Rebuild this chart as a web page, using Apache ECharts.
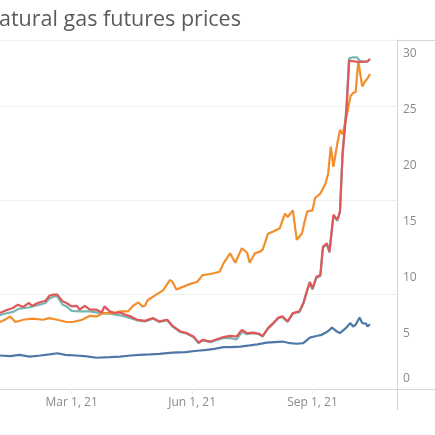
<!DOCTYPE html>
<html>
<head>
<meta charset="utf-8">
<script src="https://cdn.jsdelivr.net/npm/echarts@6/dist/echarts.min.js"></script>
<style>
  html, body { margin: 0; padding: 0; background: #fff; }
  #chart { width: 435px; height: 435px; }
</style>
</head>
<body>
<div id="chart"></div>
<script>
// tick labels
var xTickDates = ['2021-03-01', '2021-06-01', '2021-09-01'];
var monthNames = ['Jan', 'Feb', 'Mar', 'Apr', 'May', 'Jun', 'Jul', 'Aug', 'Sep', 'Oct', 'Nov', 'Dec'];

// blue
var henryHub = [
  ['2021-01-05', 3.0], ['2021-01-13', 2.95], ['2021-01-20', 3.05], ['2021-01-28', 2.9],
  ['2021-02-05', 3.0], ['2021-02-12', 3.1], ['2021-02-18', 3.2], ['2021-02-24', 3.05],
  ['2021-03-04', 3.0], ['2021-03-11', 2.95], ['2021-03-20', 2.8], ['2021-03-30', 2.85],
  ['2021-04-07', 2.9], ['2021-04-15', 3.0], ['2021-04-22', 3.05], ['2021-04-30', 3.1],
  ['2021-05-07', 3.15], ['2021-05-17', 3.25], ['2021-05-27', 3.3], ['2021-06-03', 3.4],
  ['2021-06-12', 3.5], ['2021-06-18', 3.6], ['2021-06-25', 3.75], ['2021-07-01', 3.75],
  ['2021-07-08', 3.8], ['2021-07-15', 3.9], ['2021-07-21', 4.0], ['2021-07-28', 4.15],
  ['2021-08-03', 4.2], ['2021-08-09', 4.25], ['2021-08-15', 4.1], ['2021-08-20', 4.05],
  ['2021-08-25', 4.1], ['2021-08-30', 4.6], ['2021-09-04', 4.75], ['2021-09-08', 4.85],
  ['2021-09-12', 5.1], ['2021-09-16', 5.5], ['2021-09-19', 5.2], ['2021-09-22', 5.0],
  ['2021-09-26', 5.4], ['2021-09-30', 5.9], ['2021-10-02', 5.6], ['2021-10-04', 5.75],
  ['2021-10-07', 6.4], ['2021-10-09', 5.9], ['2021-10-12', 5.85], ['2021-10-13', 5.6],
  ['2021-10-15', 5.8]
];

// orange
var asiaJkm = [
  ['2021-01-05', 6.0], ['2021-01-09', 6.2], ['2021-01-13', 6.5], ['2021-01-17', 6.0],
  ['2021-01-23', 6.2], ['2021-01-30', 6.3], ['2021-02-07', 6.2], ['2021-02-12', 6.35],
  ['2021-02-18', 6.2], ['2021-02-25', 6.0], ['2021-03-02', 6.0], ['2021-03-09', 6.2],
  ['2021-03-15', 6.55], ['2021-03-20', 6.5], ['2021-03-25', 6.8], ['2021-04-02', 6.8],
  ['2021-04-07', 6.95], ['2021-04-13', 6.95], ['2021-04-17', 7.45], ['2021-04-21', 7.75],
  ['2021-04-24', 7.4], ['2021-04-26', 7.45], ['2021-04-28', 7.95], ['2021-05-04', 8.4],
  ['2021-05-10', 8.85], ['2021-05-15', 9.75], ['2021-05-17', 9.6], ['2021-05-20', 8.9],
  ['2021-05-24', 9.1], ['2021-05-28', 9.3], ['2021-06-05', 9.6], ['2021-06-09', 10.2],
  ['2021-06-15', 10.3], ['2021-06-22', 10.5], ['2021-06-25', 11.25], ['2021-06-30', 12.15],
  ['2021-07-04', 11.3], ['2021-07-09', 12.6], ['2021-07-13', 12.2], ['2021-07-15', 11.3],
  ['2021-07-19', 12.15], ['2021-07-23', 12.3], ['2021-07-25', 12.5], ['2021-07-29', 13.9],
  ['2021-08-02', 14.1], ['2021-08-07', 14.4], ['2021-08-11', 15.7], ['2021-08-13', 15.4],
  ['2021-08-17', 16.0], ['2021-08-20', 13.35], ['2021-08-24', 13.95], ['2021-08-26', 15.0],
  ['2021-08-28', 15.9], ['2021-09-01', 16.0], ['2021-09-03', 17.1], ['2021-09-07', 17.5],
  ['2021-09-11', 18.4], ['2021-09-13', 19.3], ['2021-09-15', 21.7], ['2021-09-17', 19.9],
  ['2021-09-20', 22.0], ['2021-09-22', 23.2], ['2021-09-24', 22.8], ['2021-09-27', 24.4],
  ['2021-09-30', 26.2], ['2021-10-02', 26.5], ['2021-10-04', 26.6], ['2021-10-06', 29.3],
  ['2021-10-07', 28.6], ['2021-10-09', 27.1], ['2021-10-11', 27.5], ['2021-10-13', 27.8],
  ['2021-10-15', 28.2]
];

// teal (mostly under the red line)
var ukNbp = [
  ['2021-01-05', 6.6], ['2021-01-11', 6.8], ['2021-01-15', 6.9], ['2021-01-20', 7.2],
  ['2021-01-27', 7.3], ['2021-02-03', 7.5], ['2021-02-09', 7.7], ['2021-02-12', 8.1],
  ['2021-02-16', 8.3], ['2021-02-18', 8.3], ['2021-02-22', 7.55], ['2021-02-25', 7.4],
  ['2021-03-01', 7.0], ['2021-03-07', 6.95], ['2021-03-15', 6.95], ['2021-03-23', 6.8],
  ['2021-03-30', 6.75], ['2021-04-07', 6.6], ['2021-04-13', 6.4], ['2021-04-20', 6.15],
  ['2021-04-26', 6.05], ['2021-05-02', 6.3], ['2021-05-07', 6.0], ['2021-05-13', 6.15],
  ['2021-05-17', 5.6], ['2021-05-23', 5.1], ['2021-05-28', 4.95], ['2021-06-02', 4.65],
  ['2021-06-06', 4.1], ['2021-06-09', 4.35], ['2021-06-15', 4.2], ['2021-06-20', 4.4],
  ['2021-06-25', 4.55], ['2021-06-30', 4.55], ['2021-07-05', 4.45], ['2021-07-09', 5.1],
  ['2021-07-13', 4.9], ['2021-07-18', 5.0], ['2021-07-22', 4.9], ['2021-07-25', 4.7],
  ['2021-07-29', 5.4], ['2021-08-02', 5.85], ['2021-08-06', 6.35], ['2021-08-09', 6.45],
  ['2021-08-13', 6.0], ['2021-08-17', 6.75], ['2021-08-22', 6.9], ['2021-08-25', 7.6],
  ['2021-08-28', 8.8], ['2021-08-30', 9.5], ['2021-09-01', 8.9], ['2021-09-04', 9.95],
  ['2021-09-07', 10.1], ['2021-09-09', 12.65], ['2021-09-12', 12.95], ['2021-09-14', 12.2],
  ['2021-09-17', 15.5], ['2021-09-20', 15.05], ['2021-09-22', 15.8], ['2021-09-24', 21.2],
  ['2021-09-27', 25.3], ['2021-09-29', 29.6], ['2021-10-02', 29.7], ['2021-10-05', 29.7],
  ['2021-10-07', 29.4], ['2021-10-10', 29.3], ['2021-10-13', 29.3], ['2021-10-15', 29.55]
];

// red
var dutchTtf = [
  ['2021-01-05', 6.8], ['2021-01-11', 7.1], ['2021-01-15', 7.25], ['2021-01-19', 7.55],
  ['2021-01-23', 7.35], ['2021-01-27', 7.7], ['2021-01-30', 7.45], ['2021-02-03', 7.7],
  ['2021-02-09', 7.9], ['2021-02-12', 8.35], ['2021-02-15', 8.45], ['2021-02-18', 8.45],
  ['2021-02-22', 7.85], ['2021-02-25', 7.7], ['2021-03-01', 7.4], ['2021-03-05', 7.45],
  ['2021-03-07', 7.1], ['2021-03-11', 7.45], ['2021-03-15', 7.1], ['2021-03-20', 7.1],
  ['2021-03-24', 6.85], ['2021-03-26', 7.4], ['2021-03-30', 6.95], ['2021-04-03', 6.8],
  ['2021-04-07', 6.85], ['2021-04-11', 6.65], ['2021-04-15', 6.5], ['2021-04-20', 6.2],
  ['2021-04-26', 6.1], ['2021-05-02', 6.35], ['2021-05-07', 6.05], ['2021-05-13', 6.2],
  ['2021-05-17', 5.65], ['2021-05-23', 5.15], ['2021-05-28', 5.0], ['2021-06-02', 4.7],
  ['2021-06-06', 4.15], ['2021-06-09', 4.4], ['2021-06-15', 4.25], ['2021-06-20', 4.45],
  ['2021-06-25', 4.65], ['2021-06-30', 4.75], ['2021-07-05', 4.7], ['2021-07-09', 5.3],
  ['2021-07-13', 5.0], ['2021-07-18', 5.05], ['2021-07-22', 4.95], ['2021-07-25', 4.75],
  ['2021-07-29', 5.45], ['2021-08-02', 5.9], ['2021-08-06', 6.4], ['2021-08-09', 6.5],
  ['2021-08-13', 6.05], ['2021-08-17', 6.8], ['2021-08-22', 6.95], ['2021-08-25', 7.7],
  ['2021-08-28', 8.9], ['2021-08-30', 9.6], ['2021-09-01', 9.0], ['2021-09-04', 10.05],
  ['2021-09-07', 10.2], ['2021-09-09', 12.75], ['2021-09-12', 13.05], ['2021-09-14', 12.3],
  ['2021-09-17', 15.6], ['2021-09-20', 15.15], ['2021-09-22', 15.9], ['2021-09-24', 21.0],
  ['2021-09-27', 25.0], ['2021-09-29', 29.4], ['2021-10-05', 29.3], ['2021-10-10', 29.3],
  ['2021-10-13', 29.35], ['2021-10-15', 29.55]
];

function toTime(s) {
  var p = s.split('-');
  return new Date(+p[0], +p[1] - 1, +p[2]).getTime();
}

var chart = echarts.init(document.getElementById('chart'), null, { renderer: 'canvas' });

var lineColor = '#d6d6d6';
var labelColor = '#8a8a8a';

function lineSeries(name, data, color) {
  return {
    name: name,
    type: 'line',
    yAxisIndex: 1,
    data: data.map(function (p) { return [toTime(p[0]), p[1]]; }),
    showSymbol: false,
    symbol: 'none',
    lineStyle: { width: 2.2, color: color },
    itemStyle: { color: color },
    animation: false
  };
}

var xTicks = xTickDates.map(toTime);

var option = {
  animation: false,
  title: {
    text: 'atural gas futures prices',
    left: -1,
    top: 9,
    padding: 0,
    textStyle: {
      fontFamily: 'Open Sans',
      fontSize: 21.5,
      fontWeight: 'normal',
      color: '#5b5b5b'
    }
  },
  grid: { left: 0, right: 38, top: 40, bottom: 46, containLabel: false },
  xAxis: {
    type: 'value',
    min: new Date(2021, 0, 5, 5).getTime(),
    max: new Date(2021, 10, 4, 14).getTime(),
    axisLine: { show: true, lineStyle: { color: lineColor, width: 1 } },
    axisTick: {
      show: true,
      length: 5,
      customValues: xTicks,
      lineStyle: { color: '#ececec' }
    },
    axisLabel: {
      customValues: xTicks,
      margin: 8,
      fontFamily: 'Open Sans',
      fontSize: 12,
      color: labelColor,
      formatter: function (val) {
        var d = new Date(val);
        return monthNames[d.getMonth()] + ' ' + d.getDate() + ', ' + String(d.getFullYear()).slice(2);
      }
    },
    splitLine: { show: false }
  },
  yAxis: [
    {
      // hidden left axis, only its grid lines are visible
      type: 'value',
      position: 'left',
      min: 0,
      max: 92.5,
      interval: 25,
      axisLine: { show: false },
      axisTick: { show: false },
      axisLabel: { show: false },
      splitLine: { show: true, lineStyle: { color: '#f0f0f0', width: 1 } }
    },
    {
      type: 'value',
      position: 'right',
      min: 0,
      max: 31.25,
      interval: 5,
      axisLine: { show: true, lineStyle: { color: lineColor, width: 1 } },
      axisTick: { show: false },
      splitLine: { show: false },
      axisLabel: {
        margin: 6,
        showMaxLabel: false,
        fontFamily: 'Open Sans',
        fontSize: 12,
        color: labelColor,
        formatter: function (v) {
          if (v % 5 !== 0) return '';
          return v === 0 ? '{zero|0}' : String(v);
        },
        rich: {
          zero: { fontFamily: 'Open Sans', fontSize: 12, color: labelColor, padding: [0, 0, 20, 0] }
        }
      }
    }
  ],
  graphic: [
    { type: 'line', silent: true, shape: { x1: 0, y1: 40.5, x2: 435, y2: 40.5 }, style: { stroke: lineColor, lineWidth: 1 } },
    { type: 'line', silent: true, shape: { x1: 397, y1: 389.5, x2: 435, y2: 389.5 }, style: { stroke: lineColor, lineWidth: 1 } },
    { type: 'line', silent: true, shape: { x1: 397.5, y1: 389, x2: 397.5, y2: 410 }, style: { stroke: lineColor, lineWidth: 1 } }
  ],
  series: [
    lineSeries('Henry Hub', henryHub, '#4e79a7'),
    lineSeries('NBP', ukNbp, '#76b7b2'),
    lineSeries('JKM', asiaJkm, '#f28e2b'),
    lineSeries('TTF', dutchTtf, '#e15759')
  ]
};

chart.setOption(option);
</script>
</body>
</html>
